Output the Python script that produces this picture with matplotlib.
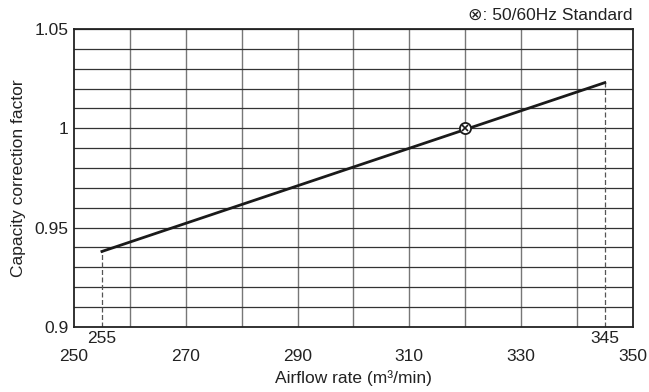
import matplotlib
matplotlib.use('Agg')
import matplotlib.pyplot as plt
import numpy as np

# Data
airflow = [255, 345]
factor = [0.938, 1.023]
std_x = 320
std_y = 1.0
xticks = [250, 270, 290, 310, 330, 350]
yticks = [0.9, 0.95, 1.0, 1.05]
ytick_labels = ['0.9', '0.95', '1', '1.05']

plt.rcParams['font.family'] = ['Liberation Sans', 'DejaVu Sans']

fig = plt.figure(figsize=(6.49, 3.92), dpi=100)
ax = fig.add_axes([0.114, 0.166, 0.861, 0.760])

ax.set_xlim(250, 350)
ax.set_ylim(0.9, 1.05)

# grid
for gx in np.arange(260, 350, 10):
    ax.axvline(gx, color='#777777', lw=1.0, zorder=1)
for gy in np.arange(0.91, 1.05, 0.01):
    ax.axhline(gy, color='#333333', lw=0.9, zorder=1)

# dashed drop lines
for xv, yv in zip(airflow, factor):
    ax.plot([xv, xv], [0.9, yv], color='#555555', lw=0.9, ls=(0, (4, 2)), zorder=2)

ax.plot(airflow, factor, color='#1a1a1a', lw=2, zorder=3)
ax.plot(std_x, std_y, marker='o', ms=8, mfc='white', mec='#1a1a1a', mew=1.3, zorder=4)
ax.plot(std_x, std_y, marker='x', ms=5, color='#1a1a1a', mew=1.2, zorder=5)

ax.set_xticks(xticks)
ax.set_yticks(yticks)
ax.set_yticklabels(ytick_labels)
ax.tick_params(length=0, labelsize=12.5, colors='#222222')
ax.tick_params(axis='x', pad=16)
ax.tick_params(axis='y', pad=4)

for xv in airflow:
    ax.text(xv, 0.8982, str(xv), ha='center', va='top', fontsize=12.5, color='#222222')

for s in ax.spines.values():
    s.set_color('#222222')
    s.set_linewidth(1.3)

ax.set_xlabel('Airflow rate (m\u00b3/min)', fontsize=12.5, color='#222222', labelpad=4)
ax.set_ylabel('Capacity correction factor', fontsize=12.5, color='#222222', labelpad=6)

fig.text(0.975, 0.942, '\u2297: 50/60Hz Standard', ha='right', va='bottom',
         fontsize=12.5, color='#222222', family=['Liberation Sans', 'DejaVu Sans'])

fig.savefig('out.png', dpi=100)
